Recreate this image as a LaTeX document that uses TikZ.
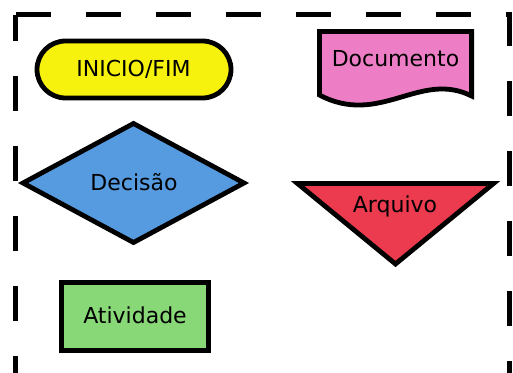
\documentclass[tikz,border=0pt]{standalone}
\usepackage{fontspec}
\setmainfont{DejaVu Sans}
\usetikzlibrary{shapes.misc}
\definecolor{cyellow}{RGB}{247,241,14}
\definecolor{cpink}{RGB}{237,126,198}
\definecolor{cblue}{RGB}{86,155,223}
\definecolor{cred}{RGB}{236,58,78}
\definecolor{cgreen}{RGB}{136,216,119}
\begin{document}
\begin{tikzpicture}[x=1pt,y=-1pt,
  shapeline/.style={draw=black, line width=4.8pt, line join=miter, miter limit=10},
  lbl/.style={font=\fontsize{22}{25}\selectfont, text=black, anchor=base, inner sep=0pt}]
\useasboundingbox (0,0) rectangle (513,372);
\clip (0,0) rectangle (513,372);
% dashed frame
\draw[line width=5pt, dash pattern=on 35pt off 35pt] (15.8,14.8) -- (509.5,14.8) -- (509.5,409) -- (15.8,409) -- cycle;
% INICIO/FIM
\node[shapeline, rounded rectangle, fill=cyellow, minimum width=194pt, minimum height=57pt, inner sep=0pt] (inicio) at (134,69.5) {};
\node[lbl] (tinicio) at (133.5,76) {INICIO/FIM};
% Documento
\coordinate (doctl) at (319.4,31.4);
\coordinate (doctr) at (471.6,31.4);
\coordinate (docbr) at (471.6,96);
\coordinate (docbl) at (319.4,95);
\draw[shapeline, fill=cpink] (docbl) -- (doctl) -- (doctr) -- (docbr)
  .. controls (420,70) and (380,127) .. (docbl) -- cycle;
\node[lbl] (tdoc) at (395.5,66) {Documento};
% Decisao
\coordinate (dl) at (23,183);
\coordinate (dt) at (133.5,123.5);
\coordinate (dr) at (244,183);
\coordinate (db) at (133.5,242.5);
\draw[shapeline, fill=cblue] (dl) -- (dt) -- (dr) -- (db) -- cycle;
\node[lbl] (tdec) at (134,190) {Decisão};
% Arquivo
\coordinate (al) at (297.5,183.5);
\coordinate (ar) at (493.5,183.5);
\coordinate (ab) at (395.5,264);
\draw[shapeline, fill=cred] (al) -- (ar) -- (ab) -- cycle;
\node[lbl] (tarq) at (395,212) {Arquivo};
% Atividade
\node[shapeline, rectangle, fill=cgreen, minimum width=147pt, minimum height=68pt, inner sep=0pt, line width=5pt] (ativ) at (135,316.5) {};
\node[lbl] (tativ) at (135,323) {Atividade};
\end{tikzpicture}
\end{document}
